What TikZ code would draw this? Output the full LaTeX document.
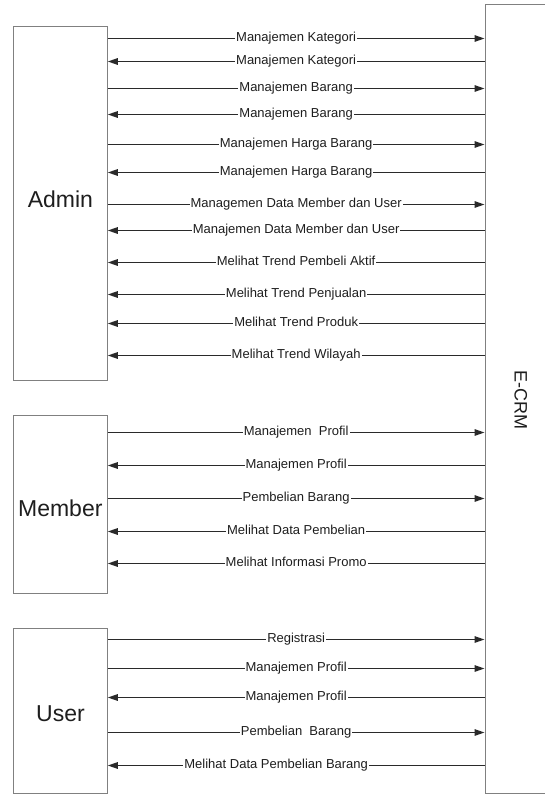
\documentclass[tikz,border=0pt]{standalone}
\usepackage{fontspec}
\setmainfont{Liberation Sans}
\usetikzlibrary{arrows.meta}
\definecolor{boxc}{HTML}{808080}
\definecolor{linec}{HTML}{2A2A2A}
\definecolor{txtc}{HTML}{1E1E1E}
\begin{document}
\begin{tikzpicture}[x=1pt,y=-1pt,
  actorbox/.style={draw=boxc,line width=1pt,fill=white,inner sep=0pt},
  bigtext/.style={font=\fontsize{23}{23}\selectfont,text=txtc,inner sep=0pt},
  flow/.style={draw=linec,line width=1.4pt,>={Triangle[length=10pt,width=6.5pt]}},
  lab/.style={midway,anchor=base,yshift=-2.7pt,fill=white,inner xsep=1pt,inner ysep=0.5pt,
    font=\fontsize{13}{13}\selectfont,text=txtc}]
\useasboundingbox (0,0) rectangle (545,795);
\clip (0,0) rectangle (545,795);
\fill[white] (0,0) rectangle (545,795);
% boxes
\node[actorbox,minimum width=94.1pt,minimum height=354.3pt] (admin) at (60.25,203.15) {};
\node[actorbox,minimum width=94.1pt,minimum height=177.3pt] (member) at (60.25,504.35) {};
\node[actorbox,minimum width=94.1pt,minimum height=165pt] (user) at (60.25,710.8) {};
\node[actorbox,minimum width=75pt,minimum height=788.3pt] (ecrm) at (522.5,398.85) {};
% box texts
\node[bigtext] (admintxt) at (60.4,199) {Admin};
\node[bigtext] (membertxt) at (60.3,508) {Member};
\node[bigtext] (usertxt) at (60.5,713.5) {User};
\node[bigtext,font=\fontsize{18}{18}\selectfont,rotate=-90] (ecrmtxt) at (520.7,400) {E-CRM};
% Admin flows
\draw[flow,->] (admin.east |- 0,38.5) -- (ecrm.west |- 0,38.5) node[lab] {Manajemen Kategori};
\draw[flow,<-] (admin.east |- 0,61.5) -- (ecrm.west |- 0,61.5) node[lab] {Manajemen Kategori};
\draw[flow,->] (admin.east |- 0,88.5) -- (ecrm.west |- 0,88.5) node[lab] {Manajemen Barang};
\draw[flow,<-] (admin.east |- 0,114.5) -- (ecrm.west |- 0,114.5) node[lab] {Manajemen Barang};
\draw[flow,->] (admin.east |- 0,144.5) -- (ecrm.west |- 0,144.5) node[lab] {Manajemen Harga Barang};
\draw[flow,<-] (admin.east |- 0,172.5) -- (ecrm.west |- 0,172.5) node[lab] {Manajemen Harga Barang};
\draw[flow,->] (admin.east |- 0,204.5) -- (ecrm.west |- 0,204.5) node[lab] {Managemen Data Member dan User};
\draw[flow,<-] (admin.east |- 0,230.5) -- (ecrm.west |- 0,230.5) node[lab] {Manajemen Data Member dan User};
\draw[flow,<-] (admin.east |- 0,262.5) -- (ecrm.west |- 0,262.5) node[lab] {Melihat Trend Pembeli Aktif};
\draw[flow,<-] (admin.east |- 0,294.5) -- (ecrm.west |- 0,294.5) node[lab] {Melihat Trend Penjualan};
\draw[flow,<-] (admin.east |- 0,323.5) -- (ecrm.west |- 0,323.5) node[lab] {Melihat Trend Produk};
\draw[flow,<-] (admin.east |- 0,355.5) -- (ecrm.west |- 0,355.5) node[lab] {Melihat Trend Wilayah};
% Member flows
\draw[flow,->] (member.east |- 0,432.5) -- (ecrm.west |- 0,432.5) node[lab] {Manajemen\ \ Profil};
\draw[flow,<-] (member.east |- 0,465.5) -- (ecrm.west |- 0,465.5) node[lab] {Manajemen Profil};
\draw[flow,->] (member.east |- 0,498.5) -- (ecrm.west |- 0,498.5) node[lab] {Pembelian Barang};
\draw[flow,<-] (member.east |- 0,531.5) -- (ecrm.west |- 0,531.5) node[lab] {Melihat Data Pembelian};
\draw[flow,<-] (member.east |- 0,563.5) -- (ecrm.west |- 0,563.5) node[lab] {Melihat Informasi Promo};
% User flows
\draw[flow,->] (user.east |- 0,639.5) -- (ecrm.west |- 0,639.5) node[lab] {Registrasi};
\draw[flow,->] (user.east |- 0,668.5) -- (ecrm.west |- 0,668.5) node[lab] {Manajemen Profil};
\draw[flow,<-] (user.east |- 0,697.5) -- (ecrm.west |- 0,697.5) node[lab] {Manajemen Profil};
\draw[flow,->] (user.east |- 0,732.5) -- (ecrm.west |- 0,732.5) node[lab] {Pembelian\ \ Barang};
\draw[flow,<-] (user.east |- 0,765.5) -- (ecrm.west |- 0,765.5) node[lab,pos=0.447] {Melihat Data Pembelian Barang};
\end{tikzpicture}
\end{document}
